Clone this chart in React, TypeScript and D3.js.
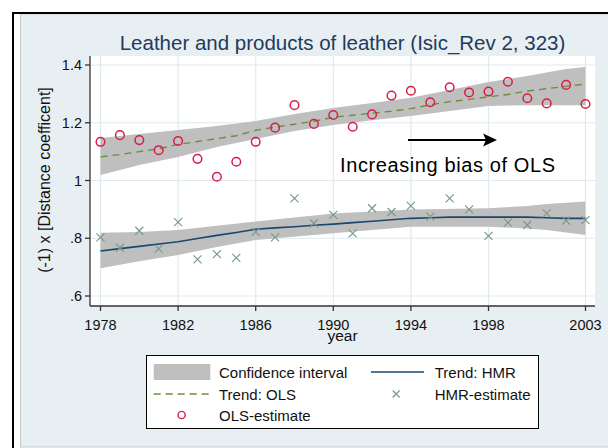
import React from "react";
import * as d3 from "d3";

const years = [1978, 1979, 1980, 1981, 1982, 1983, 1984, 1985, 1986, 1987, 1988, 1989, 1990, 1991, 1992, 1993, 1994, 1995, 1996, 1997, 1998, 1999, 2000, 2001, 2002, 2003];
const olsEstimate = [1.134, 1.157, 1.140, 1.105, 1.137, 1.075, 1.013, 1.065, 1.134, 1.183, 1.261, 1.196, 1.227, 1.186, 1.229, 1.294, 1.311, 1.271, 1.323, 1.305, 1.308, 1.342, 1.285, 1.267, 1.331, 1.265];
const hmrEstimate = [0.803, 0.767, 0.826, 0.764, 0.856, 0.727, 0.745, 0.732, 0.822, 0.803, 0.938, 0.852, 0.881, 0.817, 0.904, 0.891, 0.912, 0.875, 0.938, 0.900, 0.808, 0.854, 0.846, 0.886, 0.861, 0.863];
const olsTrend = [1.082, 1.090, 1.100, 1.110, 1.125, 1.135, 1.145, 1.155, 1.174, 1.185, 1.195, 1.205, 1.219, 1.226, 1.233, 1.240, 1.249, 1.262, 1.273, 1.281, 1.290, 1.298, 1.310, 1.318, 1.326, 1.334];
const hmrTrend = [0.756, 0.764, 0.772, 0.780, 0.788, 0.799, 0.810, 0.820, 0.831, 0.836, 0.840, 0.845, 0.849, 0.854, 0.859, 0.864, 0.869, 0.871, 0.873, 0.873, 0.873, 0.873, 0.873, 0.871, 0.869, 0.869];

const olsBandYears = [1978, 1980, 1982, 1984, 1986, 1988, 1990, 1992, 1994, 1996, 1998, 2000, 2002, 2003];
const olsUpper = [1.147, 1.161, 1.175, 1.189, 1.206, 1.230, 1.251, 1.268, 1.287, 1.313, 1.341, 1.362, 1.386, 1.393];
const olsLower = [1.019, 1.054, 1.081, 1.116, 1.144, 1.171, 1.192, 1.209, 1.223, 1.241, 1.258, 1.261, 1.261, 1.261];

const hmrBandYears = [1978, 1980, 1982, 1984, 1986, 1990, 1994, 1998, 2000, 2001, 2003];
const hmrUpper = [0.819, 0.822, 0.829, 0.843, 0.858, 0.886, 0.900, 0.904, 0.912, 0.919, 0.927];
const hmrLower = [0.696, 0.720, 0.742, 0.770, 0.794, 0.817, 0.840, 0.840, 0.834, 0.829, 0.811];

const xTicks = [1978, 1982, 1986, 1990, 1994, 1998, 2003];
const yTicks = [0.6, 0.8, 1.0, 1.2, 1.4];
const yTickLabels = [".6", ".8", "1", "1.2", "1.4"];

const title = "Leather and products of leather (Isic_Rev 2, 323)";
const yTitle = "(-1) x [Distance coefficent]";
const xTitle = "year";
const annotation = "Increasing bias of OLS";

const FONT = "'Liberation Sans', Arial, sans-serif";
const BAND = "#bfbfbf";
const OLS_LINE = "#6b8e3a";
const HMR_LINE = "#1a476f";
const OLS_MARK = "#d61f48";
const HMR_MARK = "#7a9a8a";

export default function App() {
  const W = 608, H = 448;
  const pl = 90, pr = 595, pt = 56, pb = 306;
  const x = d3.scaleLinear().domain([1978, 2003]).range([100.5, 585.5]);
  const y = d3.scaleLinear().domain([0.6, 1.4]).range([296, 65]);

  const bandArea = (yrs: number[], up: number[], lo: number[]) =>
    d3.area<number>().x((_, i) => x(yrs[i])).y0((_, i) => y(lo[i])).y1((_, i) => y(up[i]))(yrs) || "";
  const linePath = (vals: number[]) =>
    d3.line<number>().x((_, i) => x(years[i])).y((d) => y(d))(vals) || "";

  const xMark = (cx: number, cy: number, s: number, key: any) => (
    <path key={key} d={`M${cx - s},${cy - s}L${cx + s},${cy + s}M${cx - s},${cy + s}L${cx + s},${cy - s}`} stroke={HMR_MARK} strokeWidth={1.2} fill="none" />
  );

  const lx = 146.5, ly = 355.5, lw = 392, lh = 73;
  const r1 = 372, r2 = 394, r3 = 415;

  return (
    <svg width={W} height={H} style={{ position: "absolute", left: 0, top: 0 }} fontFamily={FONT}>
      <rect x={0} y={0} width={W} height={H} fill="#ffffff" />
      <rect x={20.5} y={14} width={W} height={433} fill="#e8eff2" stroke="#c3cbcf" strokeWidth={1} />
      <line x1={13} y1={12} x2={13} y2={H} stroke="#000" strokeWidth={2} />
      <line x1={12} y1={13} x2={W} y2={13} stroke="#000" strokeWidth={2} />

      <text x={(pl + pr) / 2} y={50} textAnchor="middle" fontSize={20.5} fill="#233a5e">{title}</text>

      <rect x={pl} y={pt} width={pr - pl} height={pb - pt} fill="#ffffff" />
      {yTicks.map((t) => (
        <line key={"gy" + t} x1={pl} x2={pr} y1={y(t)} y2={y(t)} stroke="#e0eaee" strokeWidth={1.2} />
      ))}
      {xTicks.map((t) => (
        <line key={"gx" + t} x1={x(t)} x2={x(t)} y1={pt} y2={pb} stroke="#e0eaee" strokeWidth={1.2} />
      ))}

      <path d={bandArea(olsBandYears, olsUpper, olsLower)} fill={BAND} />
      <path d={bandArea(hmrBandYears, hmrUpper, hmrLower)} fill={BAND} />
      <path d={linePath(olsTrend)} fill="none" stroke={OLS_LINE} strokeWidth={1.4} strokeDasharray="7,5" />
      <path d={linePath(hmrTrend)} fill="none" stroke={HMR_LINE} strokeWidth={1.6} />

      {hmrEstimate.map((v, i) => xMark(x(years[i]), y(v), 4, "h" + i))}
      {olsEstimate.map((v, i) => (
        <circle key={"o" + i} cx={x(years[i])} cy={y(v)} r={4.3} fill="none" stroke={OLS_MARK} strokeWidth={1.5} />
      ))}

      <line x1={pl} x2={pl} y1={pt} y2={pb} stroke="#333" strokeWidth={1.3} />
      <line x1={pl} x2={pr} y1={pb} y2={pb} stroke="#333" strokeWidth={1.3} />
      {yTicks.map((t, i) => (
        <g key={"ty" + t}>
          <line x1={pl - 5} x2={pl} y1={y(t)} y2={y(t)} stroke="#333" strokeWidth={1.3} />
          <text x={82} y={y(t) + 5} textAnchor="end" fontSize={14.5} fill="#111">{yTickLabels[i]}</text>
        </g>
      ))}
      {xTicks.map((t) => (
        <g key={"tx" + t}>
          <line x1={x(t)} x2={x(t)} y1={pb} y2={pb + 5} stroke="#333" strokeWidth={1.3} />
          <text x={x(t)} y={330} textAnchor="middle" fontSize={14.5} fill="#111">{t}</text>
        </g>
      ))}
      <text x={(pl + pr) / 2} y={341} textAnchor="middle" fontSize={15.5} fill="#111">{xTitle}</text>
      <text transform={`translate(50,180) rotate(-90)`} textAnchor="middle" fontSize={16} fill="#111">{yTitle}</text>

      <line x1={408} x2={486} y1={140} y2={140} stroke="#000" strokeWidth={2} />
      <path d="M497,140 L483,133.5 L486,140 L483,146.5 Z" fill="#000" />
      <text x={340} y={172} fontSize={20} fill="#000" textLength={215} lengthAdjust="spacing">{annotation}</text>

      <rect x={lx} y={ly} width={lw} height={lh} fill="#fff" stroke="#000" strokeWidth={1} />
      <rect x={153.7} y={364} width={56.6} height={16} fill={BAND} />
      <text x={219} y={r1 + 5.5} fontSize={15} fill="#111">Confidence interval</text>
      <line x1={371} x2={424} y1={r1} y2={r1} stroke={HMR_LINE} strokeWidth={1.6} />
      <text x={434.7} y={r1 + 5.5} fontSize={15} fill="#111">Trend: HMR</text>
      <line x1={153.7} x2={210.3} y1={r2} y2={r2} stroke={OLS_LINE} strokeWidth={1.4} strokeDasharray="7,5" />
      <text x={219} y={r2 + 5.5} fontSize={15} fill="#111">Trend: OLS</text>
      {xMark(396.2, r2, 3.5, "lx")}
      <text x={434.7} y={r2 + 5.5} fontSize={15} fill="#111">HMR-estimate</text>
      <circle cx={181.6} cy={r3} r={3.6} fill="none" stroke={OLS_MARK} strokeWidth={1.4} />
      <text x={219} y={r3 + 5.5} fontSize={15} fill="#111">OLS-estimate</text>
    </svg>
  );
}
